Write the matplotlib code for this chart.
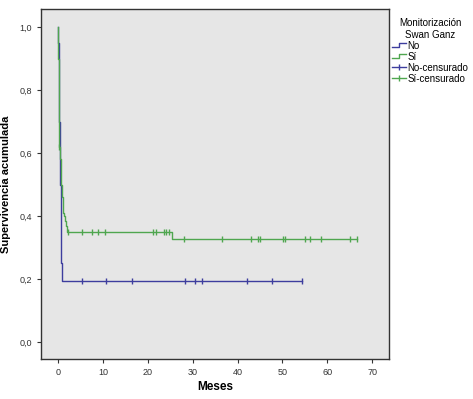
import numpy as np
import matplotlib
matplotlib.use("Agg")
import matplotlib.pyplot as plt
from matplotlib.lines import Line2D
from matplotlib.legend_handler import HandlerBase

plt.rcParams['font.family'] = ['Liberation Sans', 'DejaVu Sans']

# Kaplan-Meier steps (time, survival after the step)
no_times = [0, 0.05, 0.1, 0.15, 0.2, 0.25, 0.3, 0.35, 0.4, 0.45, 0.5,
            0.55, 0.6, 0.65, 0.7, 0.75, 0.8]
no_surv = [1.0, 0.95, 0.90, 0.85, 0.80, 0.75, 0.70, 0.65, 0.60, 0.55,
           0.50, 0.45, 0.40, 0.35, 0.30, 0.25, 0.195]
no_end = 54.3
no_cens = [5.3, 10.6, 16.5, 28.3, 30.5, 32.0, 42.0, 47.7, 54.3]

si_times = [0, 0.05, 0.1, 0.15, 0.2, 0.3, 0.45, 0.6, 0.75, 0.9, 1.05,
            1.2, 1.3, 1.5, 1.7, 1.9, 25.5]
si_surv = [1.0, 0.90, 0.80, 0.72, 0.65, 0.62, 0.58, 0.54, 0.50, 0.46,
           0.43, 0.41, 0.40, 0.385, 0.37, 0.35, 0.328]
si_end = 66.7
si_cens = [0.3, 2.3, 5.3, 7.5, 9.0, 10.5, 21.2, 21.8, 23.5, 24.1, 24.8,
           28.1, 36.5, 43.1, 44.6, 45.1, 50.2, 50.6, 55.0, 56.1, 58.7,
           65.0, 66.7]

col_no = '#3d3d9e'
col_si = '#4fa64f'


def step_xy(times, surv, end):
    xs = [times[0]]
    ys = [surv[0]]
    for i in range(1, len(times)):
        xs += [times[i], times[i]]
        ys += [surv[i - 1], surv[i]]
    xs.append(end)
    ys.append(surv[-1])
    return np.array(xs), np.array(ys)


def surv_at(times, surv, t):
    idx = np.searchsorted(times, t, side='right') - 1
    return np.array(surv)[idx]


class StepHandler(HandlerBase):
    def create_artists(self, legend, orig, x0, y0, w, h, fontsize, trans):
        xs = [x0, x0 + w * 0.5, x0 + w * 0.5, x0 + w]
        ys = [y0 + h * 0.2, y0 + h * 0.2, y0 + h * 0.8, y0 + h * 0.8]
        ln = Line2D(xs, ys, color=orig.get_color(), lw=1, transform=trans)
        return [ln]


fig = plt.figure(figsize=(4.73, 3.99), dpi=100)
ax = fig.add_axes([0.0867, 0.100, 0.7353, 0.877])
ax.set_facecolor('#e6e6e6')

x, y = step_xy(no_times, no_surv, no_end)
ax.plot(x, y, color=col_no, lw=1)
x, y = step_xy(si_times, si_surv, si_end)
ax.plot(x, y, color=col_si, lw=1)

ax.plot(no_cens, surv_at(no_times, no_surv, no_cens), ls='none',
        marker='|', ms=5, mew=1, color=col_no)
ax.plot(si_cens, surv_at(si_times, si_surv, si_cens), ls='none',
        marker='|', ms=5, mew=1, color=col_si)

ax.set_xlim(-3.8, 73.7)
ax.set_ylim(-0.054, 1.057)
ax.set_xticks(range(0, 71, 10))
ax.set_yticks([0, 0.2, 0.4, 0.6, 0.8, 1.0])
ax.set_yticklabels(['0,0', '0,2', '0,4', '0,6', '0,8', '1,0'])
ax.tick_params(labelsize=6.5, length=3, width=0.8, colors='#333333')
for s in ax.spines.values():
    s.set_color('#333333')
    s.set_linewidth(1)

ax.set_xlabel('Meses', fontsize=8.5, fontweight='bold', labelpad=3)
ax.set_ylabel('Supervivencia acumulada', fontsize=8, fontweight='bold',
              labelpad=6)

handles = [
    Line2D([], [], color=col_no, lw=1),
    Line2D([], [], color=col_si, lw=1),
    Line2D([], [], color=col_no, lw=1, marker='|', ms=5),
    Line2D([], [], color=col_si, lw=1, marker='|', ms=5),
]
labels = ['No', 'Sí', 'No-censurado', 'Sí-censurado']
leg = fig.legend(handles, labels, title='Monitorización\nSwan Ganz',
                 loc='upper left', bbox_to_anchor=(0.822, 0.962),
                 frameon=False, fontsize=7, title_fontsize=7,
                 handlelength=1.5, handletextpad=0.1, labelspacing=0.1,
                 borderaxespad=0, borderpad=0.3,
                 handler_map={handles[0]: StepHandler(),
                              handles[1]: StepHandler()})
leg.get_title().set_multialignment('center')

fig.savefig('out.png', dpi=100)
